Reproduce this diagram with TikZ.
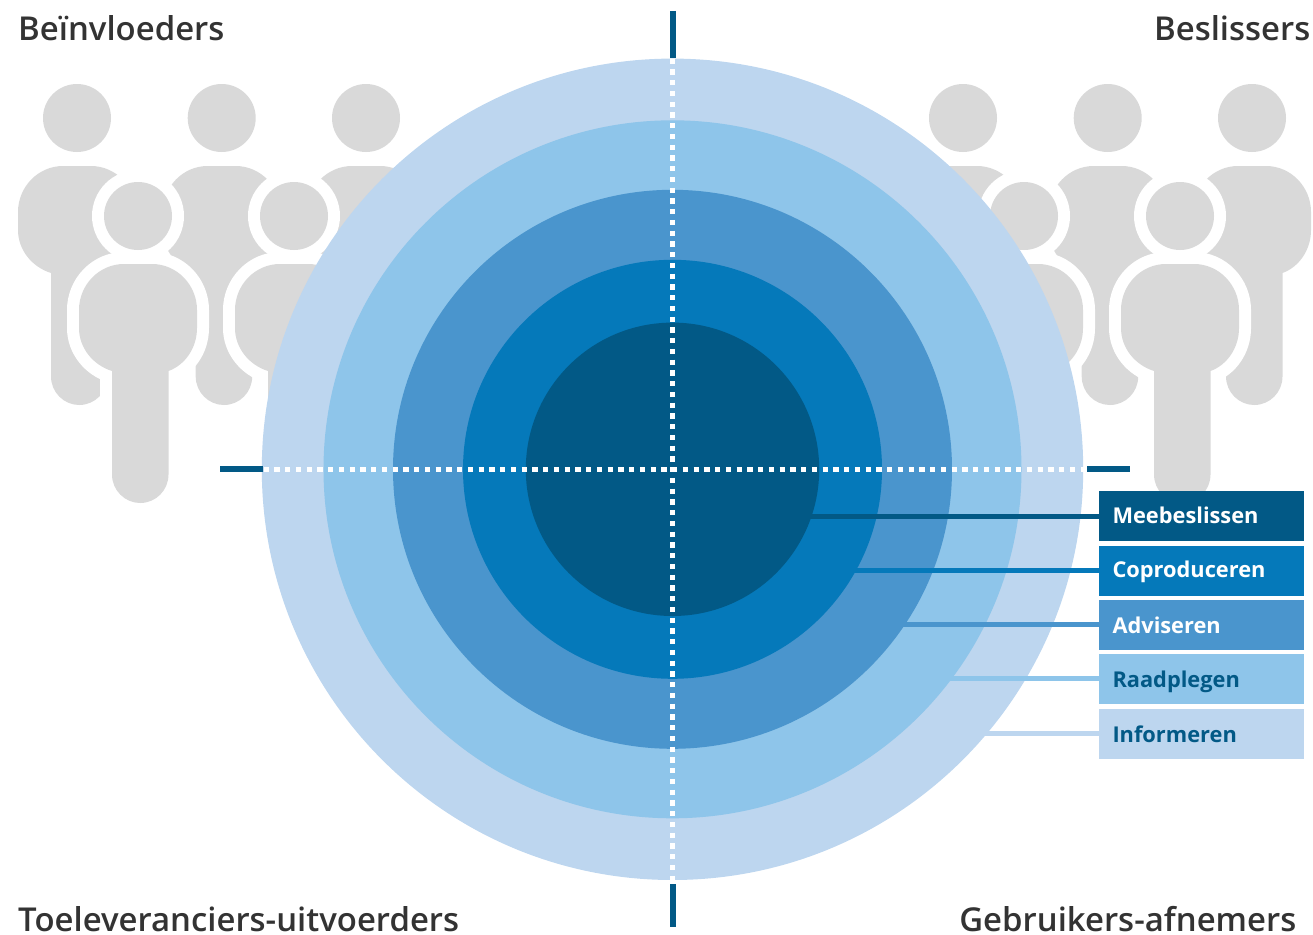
\documentclass[tikz,border=0pt]{standalone}
\usepackage{fontspec}
\setmainfont{Open Sans}[BoldFont={Open Sans Semibold}]
\newfontfamily\legendfont{Open Sans}
\definecolor{cnavy}{HTML}{025986}
\definecolor{cblue}{HTML}{0579BA}
\definecolor{cmid}{HTML}{4A95CD}
\definecolor{csky}{HTML}{8EC5EA}
\definecolor{cpale}{HTML}{BDD6EF}
\definecolor{cgray}{HTML}{D9D9D9}
\definecolor{ctext}{HTML}{333333}
\newcommand{\personpath}{%
  (-26,155) -- (-26,258.5) .. controls (-26,274.2) and (-13.2,287) .. (2.2,287)
  .. controls (17.9,287) and (30.5,274.2) .. (30.5,258.5) -- (30.5,155)
  .. controls (47,149) and (59,132) .. (59,112) -- (59,94)
  .. controls (59,69) and (39,48) .. (14,48) -- (-14,48)
  .. controls (-39,48) and (-59,69) .. (-59,94) -- (-59,112)
  .. controls (-59,132) and (-45,149) .. (-26,155) -- cycle}
\newcommand{\backperson}[2]{\begin{scope}[shift={(#1,#2)}]
  \fill[cgray] (0,0) circle[radius=34pt];
  \fill[cgray] \personpath;
\end{scope}}
\newcommand{\frontperson}[2]{\begin{scope}[shift={(#1,#2)}]
  \draw[white,line width=24pt,line join=round] \personpath;
  \fill[white] (0,0) circle[radius=46pt];
  \fill[cgray] (0,0) circle[radius=34pt];
  \fill[cgray] \personpath;
\end{scope}}
\tikzset{
  heading/.style={font=\fontsize{32.9}{38}\selectfont\bfseries,text=ctext,inner sep=0pt},
  legendbox/.style={anchor=north west,inner xsep=13.3pt,inner ysep=0pt,text width=178.4pt,align=left,
    text height=33pt,text depth=17pt,font=\legendfont\fontsize{21.8}{26}\selectfont\bfseries},
  axisline/.style={cnavy,line width=5.3pt},
  dotline/.style={white,line width=5pt,dash pattern=on 5.2pt off 5.55pt},
  leader/.style={line width=5pt}
}
\begin{document}
\begin{tikzpicture}[x=1pt,y=-1pt]
\useasboundingbox (0,0) rectangle (1313,934);
% people
\foreach \gx in {0,886}{
  \backperson{77+\gx}{118}
  \backperson{221.7+\gx}{118}
  \backperson{366+\gx}{118}
  \frontperson{138+\gx}{216}
  \frontperson{294+\gx}{216}
}
% rings
\coordinate (c) at (672.5,469.3);
\fill[cpale] (c) circle[radius=410.7pt];
\fill[csky] (c) circle[radius=349pt];
\fill[cmid] (c) circle[radius=279.5pt];
\fill[cblue] (c) circle[radius=209.5pt];
\fill[cnavy] (c) circle[radius=146.7pt];
% legend
\node[legendbox,fill=cnavy,text=white,text height=32.5pt,text depth=17.5pt] (mee) at (1099,491) {Meebeslissen};
\node[legendbox,fill=cblue,text=white,text height=31.5pt,text depth=18.5pt] (cop) at (1099,546) {Coproduceren};
\node[legendbox,fill=cmid,text=white] (adv) at (1099,600) {Adviseren};
\node[legendbox,fill=csky,text=cnavy] (raa) at (1099,654) {Raadplegen};
\node[legendbox,fill=cpale,text=cnavy] (inf) at (1099,709) {Informeren};
% leaders
\coordinate (l1) at (801,516.5);
\coordinate (l2) at (846,570.3);
\coordinate (l3) at (895,624.7);
\coordinate (l4) at (942,678.3);
\coordinate (l5) at (977,733.3);
\draw[leader,cnavy] (l1) -- (l1 -| mee.west);
\draw[leader,cblue] (l2) -- (l2 -| cop.west);
\draw[leader,cmid] (l3) -- (l3 -| adv.west);
\draw[leader,csky] (l4) -- (l4 -| raa.west);
\draw[leader,cpale] (l5) -- (l5 -| inf.west);
% axes
\coordinate (t1) at (673,11); \coordinate (t2) at (673,58);
\coordinate (b1) at (673,884); \coordinate (b2) at (673,927);
\coordinate (w1) at (220,469); \coordinate (w2) at (263,469);
\coordinate (e1) at (1087,469); \coordinate (e2) at (1130,469);
\draw[axisline] (t1) -- (t2);
\draw[axisline] (b1) -- (b2);
\draw[axisline] (w1) -- (w2);
\draw[axisline] (e1) -- (e2);
\draw[dotline] (263.7,469) -- (1084,469);
\draw[dotline] (672.5,58.7) -- (672.5,881);
% headings
\node[heading,anchor=base west] (h1) at (18,41) {Beïnvloeders};
\node[heading,anchor=base east] (h2) at (1310.5,41) {Beslissers};
\node[heading,anchor=base west] (h3) at (18,931) {Toeleveranciers-uitvoerders};
\node[heading,anchor=base east] (h4) at (1296.5,931) {Gebruikers-afnemers};
\end{tikzpicture}
\end{document}
